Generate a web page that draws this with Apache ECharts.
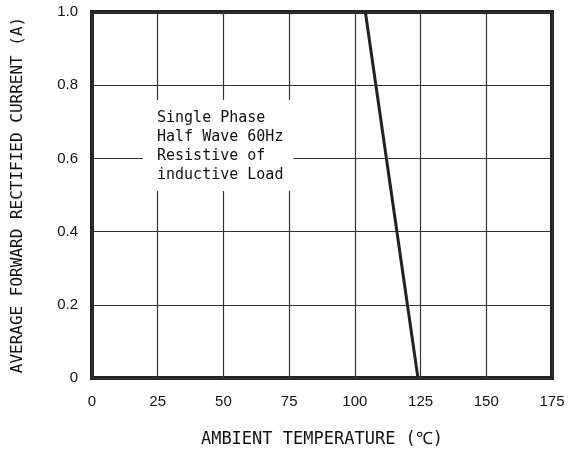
<!DOCTYPE html>
<html>
<head>
<meta charset="utf-8">
<script src="https://cdn.jsdelivr.net/npm/echarts@6/dist/echarts.min.js"></script>
<style>
  html, body { margin: 0; padding: 0; background: #fff; }
  #chart { width: 572px; height: 459px; }
</style>
</head>
<body>
<div id="chart"></div>
<script>
// 数据
const tempTicks = [0, 25, 50, 75, 100, 125, 150, 175];
const currentTicks = [0, 0.2, 0.4, 0.6, 0.8, 1.0];
const deratingTemp = [104, 124];
const deratingCurrent = [1.0, 0];
const noteLines = ["Single Phase", "Half Wave 60Hz", "Resistive of", "inductive Load"];

const chartNode = echarts.init(document.getElementById("chart"));

const axisFont = "Liberation Sans";
const monoFont = "'DejaVu Sans Mono', monospace";

const option = {
  animation: false,
  grid: {
    left: 92,
    right: 20,
    top: 12,
    bottom: 81,
    show: true,
    borderColor: "#222",
    borderWidth: 4,
    backgroundColor: "transparent"
  },
  xAxis: {
    type: "value",
    min: tempTicks[0],
    max: tempTicks[tempTicks.length - 1],
    interval: 25,
    name: "AMBIENT TEMPERATURE (℃)",
    nameLocation: "middle",
    nameGap: 53,
    nameTextStyle: { fontFamily: monoFont, fontSize: 17, color: "#111" },
    axisLine: { show: false },
    axisTick: { show: false },
    axisLabel: { fontFamily: axisFont, fontSize: 15, color: "#111", margin: 16 },
    splitLine: { lineStyle: { color: "#333", width: 1.2 } }
  },
  yAxis: {
    type: "value",
    min: currentTicks[0],
    max: currentTicks[currentTicks.length - 1],
    interval: 0.2,
    name: "AVERAGE FORWARD RECTIFIED CURRENT (A)",
    nameLocation: "middle",
    nameGap: 66,
    nameTextStyle: { fontFamily: monoFont, fontSize: 16, color: "#111" },
    axisLine: { show: false },
    axisTick: { show: false },
    axisLabel: {
      fontFamily: axisFont,
      fontSize: 15,
      color: "#111",
      margin: 14,
      formatter: function (v) {
        return v === 0 ? "0" : v.toFixed(1);
      }
    },
    splitLine: { lineStyle: { color: "#333", width: 1.2 } }
  },
  // 说明文字框
  graphic: [
    {
      type: "text",
      left: 143,
      top: 100,
      z: 10,
      style: {
        text: noteLines.join("\n"),
        fontFamily: monoFont,
        fontSize: 15,
        lineHeight: 19,
        fill: "#111",
        backgroundColor: "#fff",
        padding: [9, 10, 6, 14]
      }
    }
  ],
  series: [
    {
      type: "line",
      showSymbol: false,
      z: 5,
      lineStyle: { color: "#222", width: 3 },
      data: deratingTemp.map(function (t, i) {
        return [t, deratingCurrent[i]];
      })
    }
  ]
};

chartNode.setOption(option);
</script>
</body>
</html>
